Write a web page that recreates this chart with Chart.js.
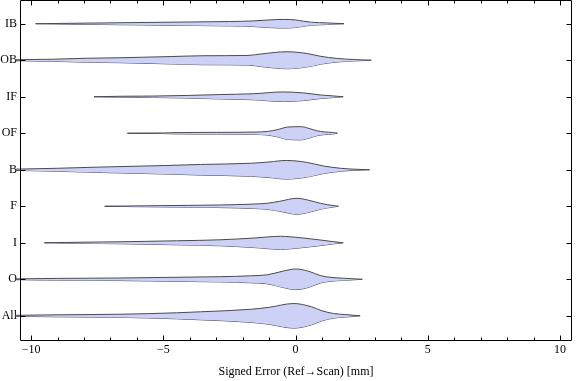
<!DOCTYPE html>
<html>
<head>
<meta charset="utf-8">
<script src="https://cdn.jsdelivr.net/npm/chart.js@4.4.0/dist/chart.umd.min.js"></script>
<style>
  html, body { margin: 0; padding: 0; background: #fff; }
</style>
</head>
<body>
<canvas id="c" width="576" height="381"></canvas>
<script>
const categories = ["IB", "OB", "IF", "OF", "B", "F", "I", "O", "All"];
const xTicks = [-10, -5, 0, 5, 10];

// violin outlines: sample positions [mm] and half-widths (density, arbitrary units)
const ibX = [-9.83, -8, -6.6, -4.1, -2.5, -1.6, -1, -0.47, 0, 0.3, 0.6, 1.2, 1.83];
const ibW = [0, 0.6, 1.0, 1.7, 2.2, 2.8, 3.8, 4.3, 3.8, 2.5, 1.5, 0.8, 0];
const obX = [-10.6, -9.2, -7.9, -6.6, -4.7, -3.5, -1.8, -1.3, -0.33, 0.44, 0.93, 1.57, 2.2, 2.86];
const obW = [0.5, 1.0, 2.0, 2.5, 3.7, 4.5, 4.8, 6.3, 8.5, 6.7, 4.0, 1.8, 0.7, 0];
const ifX = [-7.62, -6.6, -5.4, -4.1, -2.85, -1.6, -0.47, 0.3, 0.93, 1.43, 1.8];
const ifW = [0, 0.5, 0.7, 1.3, 2.2, 3.0, 4.8, 3.8, 1.8, 0.8, 0];
const ofX = [-6.36, -5, -4.6, -3, -1.5, -1.07, -0.7, -0.3, 0.2, 0.55, 0.8, 1.1, 1.4, 1.58];
const ofW = [0, 0.3, 0.6, 0.9, 1.2, 1.8, 3.5, 6.2, 6.6, 4.5, 2.5, 1.3, 0.8, 0];
const bX = [-10.6, -9, -7.25, -5, -3.6, -1.7, -1, -0.35, 0.4, 1.05, 1.7, 2.2, 2.8];
const bW = [0.6, 1.5, 2.8, 4.2, 5.3, 6.5, 7.8, 9.3, 7.5, 3.8, 1.5, 0.6, 0];
const fX = [-7.22, -6, -4.1, -2.85, -1.6, -1.07, -0.6, 0.05, 0.5, 0.93, 1.2, 1.62];
const fW = [0, 0.4, 0.9, 1.3, 2.2, 3.0, 5.0, 8.0, 6.0, 3.0, 1.6, 0];
const iX = [-9.5, -8, -6.6, -4.5, -2.85, -1.6, -0.57, 0.2, 0.93, 1.4, 1.8];
const iW = [0, 0.6, 1.0, 2.0, 3.0, 4.7, 6.5, 5.0, 2.8, 1.2, 0];
const oX = [-10.6, -9, -6.6, -4, -2.85, -1.7, -1.07, -0.5, 0, 0.5, 0.93, 1.3, 1.8, 2.52];
const oW = [0.4, 0.9, 1.3, 2.2, 2.6, 3.5, 4.5, 8.0, 10.3, 8.0, 3.8, 2.0, 1.1, 0];
const allX = [-10.6, -9, -6.6, -4.5, -3.6, -1.7, -1, -0.07, 0.6, 1.0, 1.43, 1.9, 2.44];
const allW = [0.5, 1.0, 1.6, 3.0, 4.0, 6.5, 8.5, 12.3, 9.0, 5.0, 2.3, 1.2, 0];

const violins = [[ibX, ibW], [obX, obW], [ifX, ifW], [ofX, ofW], [bX, bW],
                 [fX, fW], [iX, iW], [oX, oW], [allX, allW]];

const DENS_SCALE = 1 / 36.5;   // density -> category units
const FILL = "rgb(204,209,245)";
const EDGE = "#4a4a55";
const FONT = { family: "'Liberation Serif', 'DejaVu Serif', serif", size: 12 };

const datasets = [];
violins.forEach(([xs, ws], i) => {
  const common = {
    borderColor: EDGE,
    borderWidth: 1,
    pointRadius: 0,
    cubicInterpolationMode: "monotone",
    clip: { left: 5, top: 0, right: 0, bottom: 0 },
  };
  datasets.push({
    ...common,
    data: xs.map((x, k) => ({ x, y: i - ws[k] * DENS_SCALE })),
    fill: "+1",
    backgroundColor: FILL,
  });
  datasets.push({
    ...common,
    data: xs.map((x, k) => ({ x, y: i + ws[k] * DENS_SCALE })),
    fill: false,
  });
});

// frame with inward ticks on all four sides
const frameTicks = {
  id: "frameTicks",
  afterDatasetsDraw(chart) {
    const { ctx, chartArea: a, scales: { x, y } } = chart;
    const L = Math.round(a.left) + 0.5, R = Math.round(a.right) - 0.5;
    const T = Math.round(a.top) + 0.5, B = Math.round(a.bottom) - 0.5;
    ctx.save();
    ctx.strokeStyle = "#000";
    ctx.lineWidth = 1;
    ctx.beginPath();
    ctx.rect(L, T, R - L, B - T);
    for (let v = -10; v <= 10; v++) {
      const px = Math.round(x.getPixelForValue(v)) + 0.5;
      const len = xTicks.includes(v) ? 5 : 3;
      ctx.moveTo(px, B); ctx.lineTo(px, B - len);
      ctx.moveTo(px, T); ctx.lineTo(px, T + len);
    }
    categories.forEach((_, i) => {
      const py = Math.round(y.getPixelForValue(i)) + 0.5;
      ctx.moveTo(L, py); ctx.lineTo(L + 5, py);
      ctx.moveTo(R, py); ctx.lineTo(R - 5, py);
    });
    ctx.stroke();
    ctx.restore();
  },
};

new Chart(document.getElementById("c"), {
  type: "line",
  data: { datasets },
  plugins: [frameTicks],
  options: {
    responsive: false,
    animation: false,
    devicePixelRatio: 1,
    layout: { padding: { top: 0, right: 4, left: 0, bottom: 0 } },
    plugins: {
      legend: { display: false },
      tooltip: { enabled: false },
    },
    scales: {
      x: {
        type: "linear",
        min: -10.42,
        max: 10.45,
        afterBuildTicks: s => { s.ticks = xTicks.map(v => ({ value: v })); },
        afterFit: s => { s.height = 40; s.paddingLeft = 0; s.paddingRight = 0; },
        ticks: {
          autoSkip: false,
          maxRotation: 0,
          padding: 2,
          color: "#000",
          font: FONT,
          callback: v => v < 0 ? "\u2212" + Math.abs(v) : String(v),
        },
        grid: { display: false, drawTicks: false },
        border: { display: false },
        title: {
          display: true,
          text: "Signed Error (Ref\u2192Scan) [mm]",
          color: "#000",
          font: FONT,
          padding: { top: 0, bottom: 2 },
        },
      },
      y: {
        type: "linear",
        reverse: true,
        min: -0.65,
        max: 8.69,
        afterBuildTicks: s => { s.ticks = categories.map((_, i) => ({ value: i })); },
        afterFit: s => { s.width = 20; s.paddingTop = 0; s.paddingBottom = 0; },
        ticks: {
          autoSkip: false,
          padding: 3,
          color: "#000",
          font: FONT,
          callback: v => categories[v],
        },
        grid: { display: false, drawTicks: false },
        border: { display: false },
      },
    },
  },
});
</script>
</body>
</html>
